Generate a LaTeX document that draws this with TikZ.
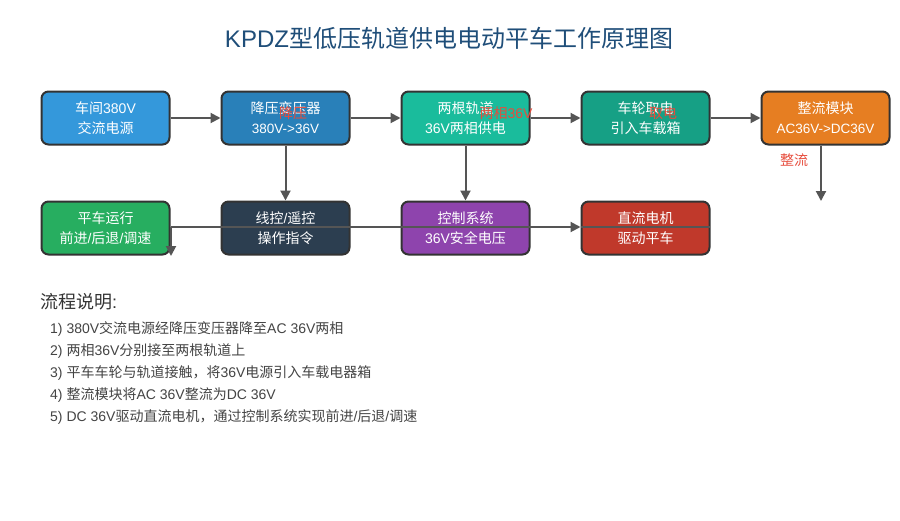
\documentclass[tikz,border=0pt]{standalone}
\usepackage{fontspec}
\setmainfont{Liberation Sans}
\newfontfamily\cjkfont{Noto Sans CJK SC}
\usetikzlibrary{arrows.meta}
\XeTeXinterchartokenstate=1
\newXeTeXintercharclass\CJKcls
\makeatletter
\count@="4E00
\loop\XeTeXcharclass\count@=\CJKcls\relax\ifnum\count@<"9FFF \advance\count@ by 1 \repeat
\count@="3000
\loop\XeTeXcharclass\count@=\CJKcls\relax\ifnum\count@<"303F \advance\count@ by 1 \repeat
\count@="FF00
\loop\XeTeXcharclass\count@=\CJKcls\relax\ifnum\count@<"FFEF \advance\count@ by 1 \repeat
\makeatother
\XeTeXinterchartoks 0 \CJKcls = {\begingroup\cjkfont}
\XeTeXinterchartoks 4095 \CJKcls = {\begingroup\cjkfont}
\XeTeXinterchartoks \CJKcls 0 = {\endgroup}
\XeTeXinterchartoks \CJKcls 4095 = {\endgroup}
\definecolor{cA}{HTML}{3498DB}
\definecolor{cB}{HTML}{2980B9}
\definecolor{cC}{HTML}{1ABC9C}
\definecolor{cD}{HTML}{16A085}
\definecolor{cE}{HTML}{E67E22}
\definecolor{cF}{HTML}{27AE60}
\definecolor{cG}{HTML}{2C3E50}
\definecolor{cH}{HTML}{8E44AD}
\definecolor{cI}{HTML}{C0392B}
\definecolor{border}{HTML}{333333}
\definecolor{arr}{HTML}{555555}
\definecolor{lbl}{HTML}{E74C3C}
\definecolor{ttl}{HTML}{1F4E79}
\definecolor{txt}{HTML}{333333}
\definecolor{item}{HTML}{444444}
\tikzset{
  box/.style={draw=border, line width=2pt, rounded corners=7pt, minimum width=128pt, minimum height=53pt,
    inner sep=0pt, text=white, align=center, font=\fontsize{14}{20}\selectfont},
  conn/.style={draw=arr, line width=2pt},
  arrow/.style={conn, -{Triangle[length=10pt,width=10pt]}},
  redlbl/.style={text=lbl, font=\fontsize{14}{16}\selectfont, inner sep=0pt},
  itemtxt/.style={text=item, font=\fontsize{14}{16}\selectfont, anchor=west, inner sep=0pt}
}
\begin{document}
\begin{tikzpicture}[x=1pt,y=-1pt]
\useasboundingbox (0,0) rectangle (900,520);
\fill[white] (0,0) rectangle (900,520);
\node[text=ttl, font=\fontsize{24}{28}\selectfont] (title) at (449,38) {KPDZ型低压轨道供电电动平车工作原理图};
% top row
\node[box, fill=cA] (b1) at (105.5,118) {车间380V\\交流电源};
\node[box, fill=cB] (b2) at (285.5,118) {降压变压器\\{\fontsize{13.5}{20}\selectfont 380V->36V}};
\node[box, fill=cC] (b3) at (465.5,118) {两根轨道\\36V两相供电};
\node[box, fill=cD] (b4) at (645.5,118) {车轮取电\\引入车载箱};
\node[box, fill=cE] (b5) at (825.5,118) {整流模块\\{\fontsize{13.5}{20}\selectfont AC36V->DC36V}};
% bottom row
\node[box, fill=cF] (b6) at (105.5,228) {平车运行\\前进/后退/调速};
\node[box, fill=cG] (b7) at (285.5,228) {线控/遥控\\操作指令};
\node[box, fill=cH] (b8) at (465.5,228) {控制系统\\36V安全电压};
\node[box, fill=cI] (b9) at (645.5,228) {直流电机\\驱动平车};
% connectors
\draw[arrow] (b1) -- (b2);
\draw[arrow] (b2) -- (b3);
\draw[arrow] (b3) -- (b4);
\draw[arrow] (b4) -- (b5);
\draw[arrow] (b2) -- (b7);
\draw[arrow] (b3) -- (b8);
\coordinate (c5) at (821,201);
\draw[arrow] (b5.south -| c5) -- (c5);
\coordinate (j) at (171,227);
\coordinate (k) at (171,256);
\coordinate (m) at (710,227);
\draw[arrow] (j) -- (j -| b9.west);
\draw[conn] (j -| b9.west) -- (m);
\draw[arrow] (j) -- (k);
% red labels
\node[redlbl] (l1) at (293,113) {降压};
\node[redlbl] (l2) at (506,113) {两相36V};
\node[redlbl] (l3) at (663,113) {取电};
\node[redlbl] (l4) at (794,160) {整流};
% description
\node[text=txt, font=\fontsize{18}{22}\selectfont, anchor=west, inner sep=0pt] (h) at (40,302) {流程说明:};
\node[itemtxt] (i1) at (50,329) {1) 380V交流电源经降压变压器降至AC 36V两相};
\node[itemtxt] (i2) at (50,351) {2) 两相36V分别接至两根轨道上};
\node[itemtxt] (i3) at (50,373) {3) 平车车轮与轨道接触，将36V电源引入车载电器箱};
\node[itemtxt] (i4) at (50,395) {4) 整流模块将AC 36V整流为DC 36V};
\node[itemtxt] (i5) at (50,417) {5) DC 36V驱动直流电机，通过控制系统实现前进/后退/调速};
\end{tikzpicture}
\end{document}
